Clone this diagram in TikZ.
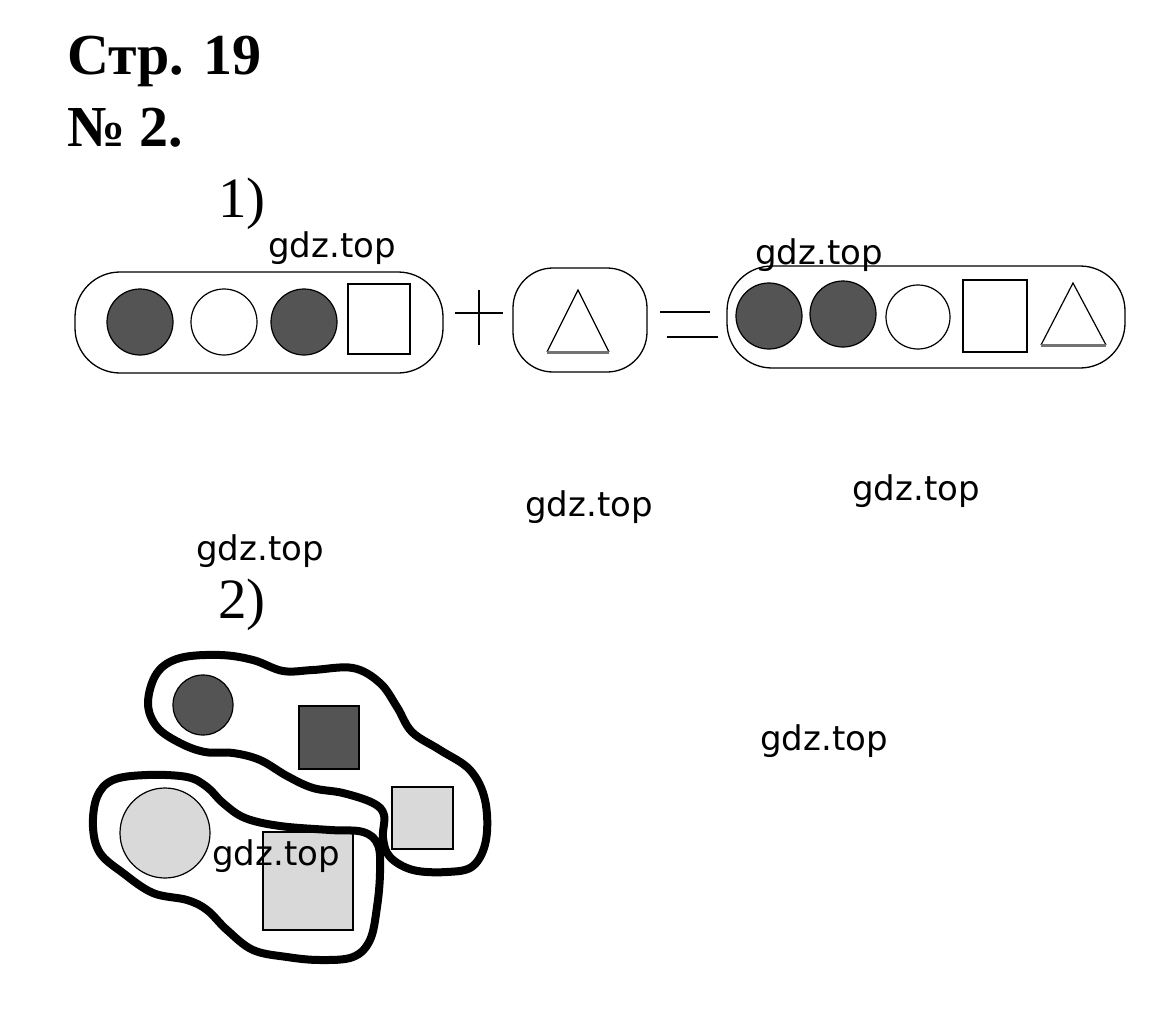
\documentclass[tikz,border=0pt]{standalone}
\usepackage{fontspec}
\setmainfont{Liberation Serif}
\newfontfamily\wmfont{DejaVu Sans}
\begin{document}
\begin{tikzpicture}[x=1pt,y=-1pt,
  wm/.style={anchor=base west,inner sep=0pt,font=\wmfont\fontsize{34}{40}\selectfont},
  ttl/.style={anchor=base west,inner sep=0pt,font=\bfseries\fontsize{58}{64}\selectfont},
  lbl/.style={anchor=base west,inner sep=0pt,font=\fontsize{57}{62}\selectfont},
  box/.style={draw,line width=1.3pt},
  dark/.style={draw,line width=1.2pt,fill=black!67},
  white/.style={draw,line width=1.2pt,fill=white},
  light/.style={draw,line width=1.2pt,fill=black!15},
  blob/.style={draw,line width=8pt,smooth cycle,tension=0.6},
  tri/.style={draw,line width=1.2pt},
  triBase/.style={draw=black!55,line width=3pt}]
\useasboundingbox (0,0) rectangle (1167,1019);
% titles
\node[ttl] (t1) at (67,75) {Стр. 19};
\node[ttl] (t2) at (67,147) {№ 2.};
\node[lbl] (l1) at (218,218) {1)};
\node[lbl] (l2) at (218,618) {2)};
% part 1
\draw[box,rounded corners=45pt] (75,272) rectangle (443,373);
\draw[dark] (140,322) circle (33);
\draw[white] (224,322) circle (33);
\draw[dark] (304,322) circle (33);
\draw[white] (348,284) rectangle (410,354);
% plus
\draw[line width=1.3pt] (455,313) -- (503,313);
\draw[line width=1.3pt] (479,290) -- (479,345);
% box B
\draw[box,rounded corners=40pt] (513,268) rectangle (647,372);
\draw[tri] (547,352) -- (578,290) -- (609,352);
\draw[triBase] (547,352) -- (609,352);
% equals
\draw[line width=1.3pt] (660,312) -- (710,312);
\draw[line width=1.3pt] (667,337) -- (718,337);
% box C
\draw[box,rounded corners=45pt] (727,266) rectangle (1125,368);
\draw[dark] (769,316) circle (33);
\draw[dark] (843,314) circle (33);
\draw[white] (918,317) circle (32);
\draw[white] (963,280) rectangle (1027,352);
\draw[tri] (1041,345) -- (1073,283) -- (1106,345);
\draw[triBase] (1041,345) -- (1106,345);
% part 2 shapes
\draw[dark] (203,705) circle (30);
\draw[dark] (299,706) rectangle (359,769);
\draw[light] (392,787) rectangle (453,849);
\draw[light] (165,833) circle (45);
\draw[light] (263,832) rectangle (353,930);
% blobs
\draw[blob] plot coordinates {(148,703) (157,673) (180,658) (220,655) (253,660) (283,671) (313,670) (353,668) (380,683) (397,707) (412,732) (440,750) (470,770) (485,800) (486,840) (473,866) (447,872) (413,870) (390,857) (383,838) (384,815) (373,803) (343,793) (313,788) (287,776) (260,760) (233,753) (205,752) (180,743) (157,727)};
\draw[blob] plot coordinates {(93,827) (97,797) (113,780) (147,775) (187,777) (207,787) (223,803) (245,818) (280,826) (330,830) (363,832) (378,845) (380,873) (377,907) (370,940) (353,957) (320,960) (287,957) (253,950) (227,930) (207,910) (187,900) (153,893) (123,873) (100,853)};
% watermarks
\node[wm] (w1) at (268,257) {gdz.top};
\node[wm] (w2) at (755,264) {gdz.top};
\node[wm] (w3) at (525,516) {gdz.top};
\node[wm] (w4) at (852,500) {gdz.top};
\node[wm] (w5) at (196,560) {gdz.top};
\node[wm] (w6) at (760,750) {gdz.top};
\node[wm] (w7) at (212,865) {gdz.top};
\end{tikzpicture}
\end{document}
